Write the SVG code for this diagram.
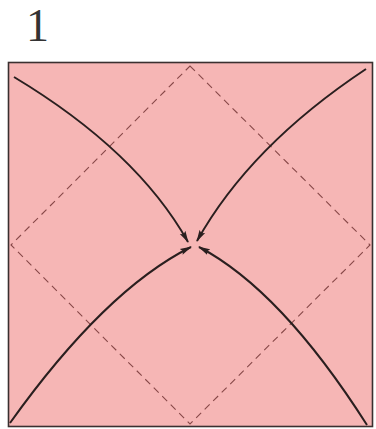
<svg xmlns="http://www.w3.org/2000/svg" width="376" height="429" viewBox="0 0 376 429">
<style>
.sheet{fill:#f6b6b5;stroke:#3a3030;stroke-width:1.6}
.fold{fill:none;stroke:#874848;stroke-width:1.1;stroke-dasharray:7 5}
.arrow{fill:none;stroke:#2a1f1f;stroke-width:2;marker-end:url(#ah)}
.num{font-family:"Liberation Serif",serif;font-size:46px;fill:#333}
</style>
<defs>
<marker id="ah" markerWidth="12" markerHeight="8" refX="11" refY="4" orient="auto" markerUnits="userSpaceOnUse">
<path d="M0,0.8 L12,4 L0,7.2 L2,4 Z" fill="#2a1f1f"/>
</marker>
</defs>
<text class="num" x="26" y="41">1</text>
<g id="sheet">
<rect class="sheet" x="8.5" y="62.5" width="364" height="364"/>
</g>
<g id="folds">
<path class="fold" d="M190,66 L370,245 L190,424 L11,245 Z"/>
</g>
<g id="connectors">
<path class="arrow" d="M14,77 Q137,151 188,242"/>
<path class="arrow" d="M366,69 Q250,146 197,241"/>
<path class="arrow" d="M10,423 Q105,290 191,247"/>
<path class="arrow" d="M367,425 Q281,290 199,247"/>
</g>
</svg>
